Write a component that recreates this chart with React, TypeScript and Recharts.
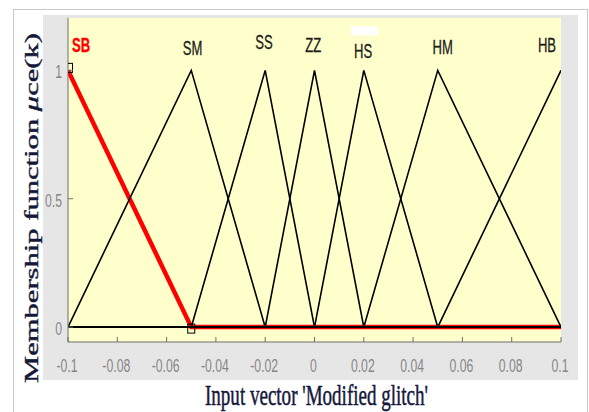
import React from 'react';
import { LineChart, Line, XAxis, YAxis, CartesianGrid, ReferenceDot } from 'recharts';

const xTicks = [-0.1, -0.08, -0.06, -0.04, -0.02, 0, 0.02, 0.04, 0.06, 0.08, 0.1];
const xTickLabels = ['-0.1', '-0.08', '-0.06', '-0.04', '-0.02', '0', '0.02', '0.04', '0.06', '0.08', '0.1'];
const yTicks = [0, 0.5, 1];
const yTickLabels = ['0', '0.5', '1'];

const mfNames = ['SB', 'SM', 'SS', 'ZZ', 'HS', 'HM', 'HB'];
const labelX = [-0.0947, -0.0495, -0.0205, -0.0005, 0.0197, 0.052, 0.0943];
const labelY = [1.07, 1.058, 1.082, 1.07, 1.047, 1.062, 1.07];

const sbX = [-0.1, -0.05, 0.1];
const sbY = [1, 0, 0];
const smX = [-0.1, -0.05, -0.02, 0.1];
const smY = [0, 1, 0, 0];
const ssX = [-0.1, -0.05, -0.02, 0, 0.1];
const ssY = [0, 0, 1, 0, 0];
const zzX = [-0.1, -0.02, 0, 0.02, 0.1];
const zzY = [0, 0, 1, 0, 0];
const hsX = [-0.1, 0, 0.02, 0.05, 0.1];
const hsY = [0, 0, 1, 0, 0];
const hmX = [-0.1, 0.02, 0.05, 0.1];
const hmY = [0, 0, 1, 0];
const hbX = [-0.1, 0.05, 0.1];
const hbY = [0, 0, 1];

const toPts = (xs: number[], ys: number[]) => xs.map((x, i) => ({ x, y: ys[i] }));

const sbData = toPts(sbX, sbY);
const blackSeries = [
  toPts(smX, smY),
  toPts(ssX, ssY),
  toPts(zzX, zzY),
  toPts(hsX, hsY),
  toPts(hmX, hmY),
  toPts(hbX, hbY),
];

const AXIS = '#6e6e6e';
const TICKTXT = '#868686';
const LABELTXT = '#15183a';

const tickLabelFor = (v: number, ticks: number[], labels: string[]) => {
  const i = ticks.findIndex((t) => Math.abs(t - v) < 1e-9);
  return i >= 0 ? labels[i] : String(v);
};

const BottomTick = (p: any) => {
  const v = p.payload.value;
  return (
    <g>
      <line x1={p.x} y1={p.y} x2={p.x} y2={p.y - 5} stroke={AXIS} strokeWidth={1} />
      <text
        transform={`translate(${p.x - 1},${p.y + 30}) scale(0.68,1)`}
        textAnchor="middle"
        fontFamily="Liberation Sans, Arial, sans-serif"
        fontSize={18}
        fill={TICKTXT}
      >
        {tickLabelFor(v, xTicks, xTickLabels)}
      </text>
    </g>
  );
};

const TopTick = (p: any) => (
  <line x1={p.x} y1={p.y} x2={p.x} y2={p.y + 5} stroke={AXIS} strokeWidth={1} />
);

const LeftTick = (p: any) => {
  const v = p.payload.value;
  return (
    <g>
      <line x1={p.x} y1={p.y} x2={p.x + 5} y2={p.y} stroke={AXIS} strokeWidth={1} />
      <text
        transform={`translate(${p.x - 6},${p.y + 8}) scale(0.68,1)`}
        textAnchor="end"
        fontFamily="Liberation Sans, Arial, sans-serif"
        fontSize={18}
        fill={TICKTXT}
      >
        {tickLabelFor(v, yTicks, yTickLabels)}
      </text>
    </g>
  );
};

const RightTick = (p: any) => (
  <line x1={p.x} y1={p.y} x2={p.x - 5} y2={p.y} stroke={AXIS} strokeWidth={1} />
);

const makeMfLabel = (name: string, i: number) => (props: any) => {
  const vb = props.viewBox || {};
  const cx = (vb.x ?? 0) + (vb.width ?? 0) / 2;
  const cy = (vb.y ?? 0) + (vb.height ?? 0) / 2;
  const isSB = i === 0;
  return (
    <g>
      {name === 'HS' ? <rect x={cx - 12} y={cy - 32} width={27} height={9} fill="#ffffff" /> : null}
      <text
        transform={`translate(${cx},${cy}) scale(0.67,1)`}
        textAnchor="middle"
        fontFamily="Liberation Sans, Arial, sans-serif"
        fontSize={19.5}
        fontWeight={isSB ? 'bold' : 'normal'}
        fill={isSB ? '#ff0000' : '#1c1c1c'}
        stroke={isSB ? '#ff0000' : '#1c1c1c'}
        strokeWidth={0.3}
      >
        {name}
      </text>
    </g>
  );
};

const XLabel = (props: any) => {
  const vb = props.viewBox || {};
  const cx = (vb.x ?? 0) + (vb.width ?? 0) / 2 + 2;
  const by = (vb.y ?? 0) + 63;
  return (
    <text
      transform={`translate(${cx},${by}) scale(0.63,1)`}
      textAnchor="middle"
      fontFamily="Liberation Serif, Times New Roman, serif"
      fontSize={30}
      fill={LABELTXT}
      stroke={LABELTXT}
      strokeWidth={0.5}
      textLength={354}
      lengthAdjust="spacingAndGlyphs"
    >
      Input vector 'Modified glitch'
    </text>
  );
};

const YLabel = (props: any) => {
  const vb = props.viewBox || {};
  const cy = (vb.y ?? 0) + (vb.height ?? 0) / 2 + 28;
  return (
    <text
      transform={`translate(38,${cy}) scale(0.65,1) rotate(-90)`}
      textAnchor="middle"
      fontFamily="Liberation Serif, Times New Roman, serif"
      fontSize={30}
      fill={LABELTXT}
      stroke={LABELTXT}
      strokeWidth={0.6}
      textLength={350}
      lengthAdjust="spacingAndGlyphs"
    >
      Membership function <tspan fontStyle="italic">μ</tspan>ce(k)
    </text>
  );
};

const SBDot = (props: any) => {
  const { cx, cy, index } = props;
  if (index > 1 || cx == null) return <g key={`d${index}`} />;
  return (
    <rect
      key={`d${index}`}
      x={cx - 3.5 + (index === 0 ? 1 : 0)}
      y={cy - 4.5 + (index === 0 ? -2.5 : 1.5)}
      width={7}
      height={9}
      fill="none"
      stroke="#000"
      strokeWidth={1}
    />
  );
};

export default function App() {
  return (
    <div style={{ position: 'absolute', left: 0, top: 0, width: 589, height: 412, background: '#ffffff', overflow: 'hidden' }}>
      <div
        style={{
          position: 'absolute',
          left: 13,
          top: 9,
          width: 573,
          height: 420,
          borderLeft: '1px solid #c8c8c8',
          borderTop: '1px solid #c8c8c8',
          borderRight: '1px solid #c8c8c8',
        }}
      />
      <div style={{ position: 'absolute', left: 43, top: 15, width: 535, height: 365, background: '#e6e6e6' }} />
      <div style={{ position: 'absolute', left: 0, top: 0 }}>
        <LineChart width={589} height={412} margin={{ top: 18, right: 28, left: 0, bottom: 0 }}>
          <CartesianGrid fill="#ffffcc" horizontal={false} vertical={false} stroke="none" />
          <XAxis
            dataKey="x"
            type="number"
            domain={[-0.1, 0.1]}
            ticks={xTicks}
            height={70}
            tickSize={0}
            tickMargin={0}
            tickLine={false}
            axisLine={{ stroke: AXIS, strokeWidth: 1 }}
            tick={BottomTick}
            interval={0}
            allowDataOverflow
            label={{ content: XLabel }}
          />
          <XAxis
            xAxisId="top"
            dataKey="x"
            type="number"
            orientation="top"
            domain={[-0.1, 0.1]}
            ticks={xTicks}
            height={0}
            tickSize={0}
            tickMargin={0}
            tickLine={false}
            axisLine={{ stroke: AXIS, strokeWidth: 1 }}
            tick={TopTick}
            interval={0}
            allowDataOverflow
          />
          <YAxis
            type="number"
            domain={[-0.058, 1.204]}
            ticks={yTicks}
            width={68}
            tickSize={0}
            tickMargin={0}
            tickLine={false}
            axisLine={{ stroke: AXIS, strokeWidth: 1 }}
            tick={LeftTick}
            interval={0}
            allowDataOverflow
            label={{ content: YLabel }}
          />
          <YAxis
            yAxisId="right"
            type="number"
            orientation="right"
            domain={[-0.058, 1.204]}
            ticks={yTicks}
            width={0}
            tickSize={0}
            tickMargin={0}
            tickLine={false}
            axisLine={{ stroke: AXIS, strokeWidth: 1 }}
            tick={RightTick}
            interval={0}
            allowDataOverflow
          />
          <Line
            data={sbData}
            dataKey="y"
            type="linear"
            stroke="#ff0000"
            strokeWidth={4.5}
            dot={SBDot}
            activeDot={false}
            isAnimationActive={false}
          />
          {blackSeries.map((d, i) => (
            <Line
              key={`mf${i}`}
              data={d}
              dataKey="y"
              type="linear"
              stroke="#000000"
              strokeWidth={1.6}
              dot={false}
              activeDot={false}
              isAnimationActive={false}
            />
          ))}
          {mfNames.map((n, i) => (
            <ReferenceDot
              key={`lbl${n}`}
              x={labelX[i]}
              y={labelY[i]}
              r={0}
              fill="none"
              stroke="none"
              label={{ content: makeMfLabel(n, i) }}
            />
          ))}
        </LineChart>
      </div>
    </div>
  );
}
